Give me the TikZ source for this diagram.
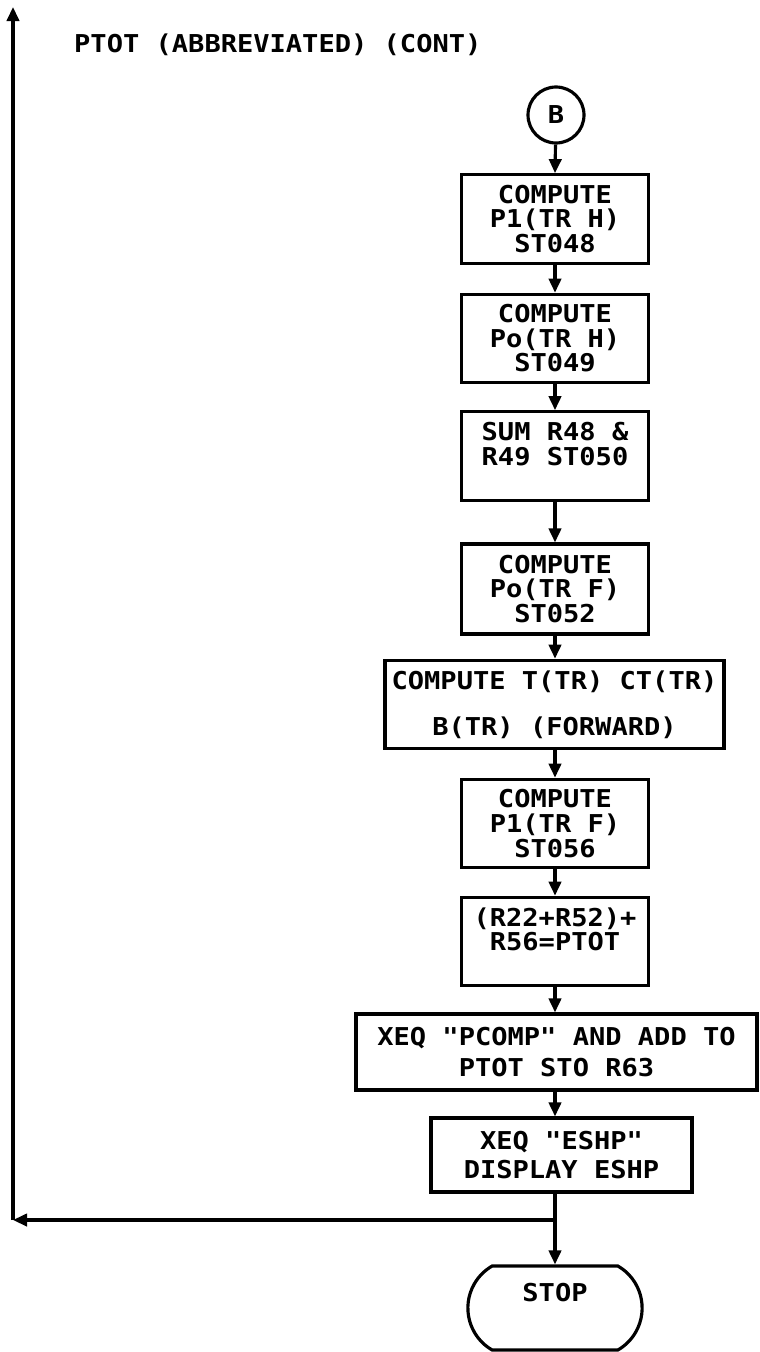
\documentclass[tikz,border=0pt]{standalone}
\usepackage{fontspec}
\newfontfamily\flowfont[FakeStretch=1.1]{DejaVu Sans Mono}
\usetikzlibrary{arrows.meta,shapes.misc}

\begin{document}
\begin{tikzpicture}[x=0.02cm,y=-0.02cm,
    every node/.style={font=\flowfont\bfseries\fontsize{14}{14}\selectfont},
    procbox/.style={draw,line width=1.8pt,minimum width=3.74cm,minimum height=1.77cm,align=center,inner sep=1pt},
    flow/.style={line width=1.8pt,-{Triangle[length=8pt,width=7pt]}}]
  \useasboundingbox (0,0) rectangle (760,1352);
  \coordinate (spine) at (555,0);
  \node[anchor=west] (title) at (68,45) {PTOT (ABBREVIATED) (CONT)};
  \node[draw,circle,line width=1.8pt,minimum size=1.12cm,inner sep=0pt] (conB) at (556,115) {B};
  \node[procbox] (st48) at (555,219) {COMPUTE\\P1(TR H)\\ST048};
  \node[procbox] (st49) at (555,338.5) {COMPUTE\\Po(TR H)\\ST049};
  \node[procbox] (st50) at (555,456) {SUM R48 \&\\R49 ST050\\\mbox{}};
  \node[procbox,minimum height=1.8cm] (st52) at (555,589) {COMPUTE\\Po(TR F)\\ST052};
  \node[procbox,minimum width=6.78cm] (fwd) at (554.5,704.5) {COMPUTE T(TR) CT(TR)\\[12pt]B(TR) (FORWARD)};
  \node[procbox] (st56) at (555,823.5) {COMPUTE\\P1(TR F)\\ST056};
  \node[procbox] (ptot) at (555,941.5) {(R22+R52)+\\R56=PTOT\\\mbox{}};
  \node[procbox,minimum width=8.02cm,minimum height=1.52cm] (pcomp) at (556.5,1052) {XEQ "PCOMP" AND ADD TO\\[4pt]PTOT STO R63};
  \node[procbox,minimum width=5.22cm,minimum height=1.48cm] (eshp) at (561.5,1155) {XEQ "ESHP"\\[2pt]DISPLAY ESHP};
  \node[draw,rounded rectangle,rounded rectangle arc length=120,line width=1.8pt,minimum width=3.72cm,minimum height=1.68cm,align=center] (stop) at (555,1308) {STOP\\[4pt]\mbox{}};
  \coordinate (junc) at (555,1220);
  \coordinate (corner) at (13,1220);
  \coordinate (top) at (13,7);
  % main line
  \draw[flow] (conB) -- (spine |- st48.north);
  \draw[flow] (spine |- st48.south) -- (spine |- st49.north);
  \draw[flow] (spine |- st49.south) -- (spine |- st50.north);
  \draw[flow] (spine |- st50.south) -- (spine |- st52.north);
  \draw[flow] (spine |- st52.south) -- (spine |- fwd.north);
  \draw[flow] (spine |- fwd.south) -- (spine |- st56.north);
  \draw[flow] (spine |- st56.south) -- (spine |- ptot.north);
  \draw[flow] (spine |- ptot.south) -- (spine |- pcomp.north);
  \draw[flow] (spine |- pcomp.south) -- (spine |- eshp.north);
  \draw[line width=1.8pt] (spine |- eshp.south) -- (junc);
  \draw[flow] (junc) -- (spine |- stop.north);
  % return path
  \draw[flow] (junc) -- (corner);
  \draw[flow] (corner) -- (top);
\end{tikzpicture}
\end{document}
